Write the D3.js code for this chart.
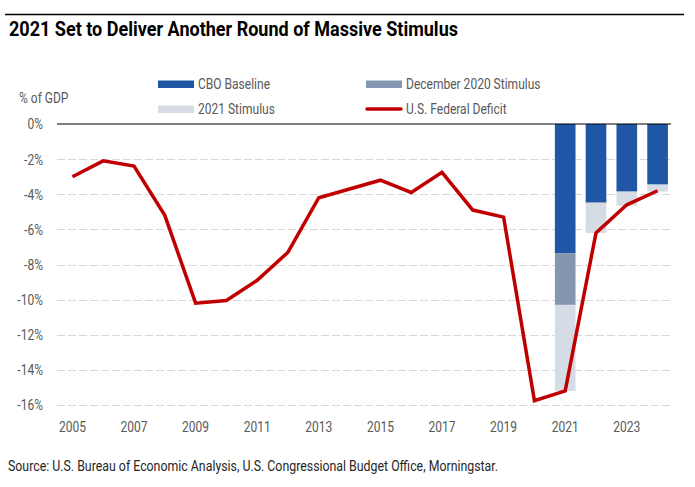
<!DOCTYPE html>
<html><head><meta charset="utf-8">
<script src="https://cdn.jsdelivr.net/npm/d3@7"></script>
<style>body{margin:0;background:#fff}svg{display:block}text{font-family:Roboto,"Liberation Sans",sans-serif}</style>
</head><body><svg id="c" width="695" height="487"></svg>
<script>
const years = ["2005","2006","2007","2008","2009","2010","2011","2012","2013","2014","2015","2016","2017","2018","2019","2020","2021","2022","2023","2024"];
const deficit = [-3.0,-2.1,-2.4,-5.2,-10.2,-10.05,-8.9,-7.3,-4.2,-3.7,-3.2,-3.9,-2.75,-4.9,-5.3,-15.75,-15.2,-6.2,-4.6,-3.8];
const barYears = ["2021","2022","2023","2024"];
const cboBaseline = [-7.35,-4.45,-3.85,-3.45];
const dec2020Stimulus = [-2.95,-0.07,0,0];
const stimulus2021 = [-4.9,-1.68,-0.8,-0.4];
const yTicks = [0,-2,-4,-6,-8,-10,-12,-14,-16];
const xTickYears = ["2005","2007","2009","2011","2013","2015","2017","2019","2021","2023"];
const seriesNames = ["CBO Baseline","December 2020 Stimulus","2021 Stimulus","U.S. Federal Deficit"];
const colors = ["#1f56a5","#8497b0","#d6dce5","#c00000"];

const svg = d3.select("#c");
const x = d3.scaleBand().domain(years).range([57,673]).paddingInner(0.33).paddingOuter(0.165);
const y = d3.scaleLinear().domain([-16,0]).range([405,124]);
const FS = 14.5;
let factor = 1;
function condense(sel, f){ sel.each(function(){ const l=this.getComputedTextLength(); d3.select(this).attr("textLength", l*f).attr("lengthAdjust","spacingAndGlyphs"); }); }
function fitTo(sel, w){ sel.attr("textLength", w).attr("lengthAdjust","spacingAndGlyphs"); }

// measure condense factor
const probe = svg.append("text").attr("font-size",FS).text("CBO Baseline");
factor = 72 / probe.node().getComputedTextLength();
probe.remove();

// top rule + title
svg.append("line").attr("x1",5).attr("x2",684).attr("y1",14.5).attr("y2",14.5).attr("stroke","#000").attr("stroke-width",1.5);
const title = svg.append("text").attr("x",9).attr("y",36).attr("font-weight","bold").attr("font-size",19.5).attr("fill","#000")
  .text("2021 Set to Deliver Another Round of Massive Stimulus");
fitTo(title, 449);

// grid
const grid = svg.append("g");
yTicks.filter(d=>d!==0).forEach(t=>{
  grid.append("line").attr("x1",57).attr("x2",671).attr("y1",Math.round(y(t))+0.5).attr("y2",Math.round(y(t))+0.5)
    .attr("stroke","#d9d9d9").attr("stroke-width",1).attr("stroke-dasharray","8,3");
});

// y axis labels
const yAxis = d3.axisLeft(y).tickValues(yTicks).tickSize(0).tickPadding(0).tickFormat(d=>d+"%");
const ga = svg.append("g").attr("transform","translate(43,0)").call(yAxis);
ga.select(".domain").remove();
ga.selectAll("text").attr("font-size",FS).attr("fill","#595959").attr("font-family","Roboto, sans-serif").attr("dy","0.34em");
condense(ga.selectAll("text"), factor);

// x axis labels
const xAxis = d3.axisBottom(x).tickValues(xTickYears).tickSize(0).tickPadding(0);
const gx = svg.append("g").attr("transform","translate(0,432)").call(xAxis);
gx.select(".domain").remove();
gx.selectAll("text").attr("font-size",FS).attr("fill","#595959").attr("font-family","Roboto, sans-serif").attr("dy","0");
condense(gx.selectAll("text"), factor);

// stacked bars
const stackData = barYears.map((yr,i)=>({year:yr, a:cboBaseline[i], b:dec2020Stimulus[i], c:stimulus2021[i]}));
const stack = d3.stack().keys(["a","b","c"]).offset(d3.stackOffsetDiverging);
const series = stack(stackData);
svg.append("g").selectAll("g").data(series).join("g").attr("fill",(d,i)=>colors[i])
  .selectAll("rect").data(d=>d).join("rect")
  .attr("x",d=>x(d.data.year)).attr("width",x.bandwidth())
  .attr("y",d=>y(Math.max(d[0],d[1]))).attr("height",d=>Math.abs(y(d[0])-y(d[1])));

// zero line
svg.append("line").attr("x1",57).attr("x2",671).attr("y1",y(0)).attr("y2",y(0)).attr("stroke","#000").attr("stroke-width",1.2);

// deficit line
const line = d3.line().x((d,i)=>x(years[i])+x.bandwidth()/2).y(d=>y(d));
svg.append("path").datum(deficit).attr("d",line).attr("fill","none").attr("stroke",colors[3]).attr("stroke-width",3.5).attr("stroke-linejoin","miter");

// y unit label
const unit = svg.append("text").attr("x",19).attr("y",103).attr("font-size",FS).attr("fill","#595959").text("% of GDP");
condense(unit, factor);

// legend
const leg = [{x:158,y:84,i:0},{x:366,y:84,i:1},{x:158,y:109,i:2},{x:366,y:109,i:3}];
leg.forEach(l=>{
  if(l.i<3) svg.append("rect").attr("x",l.x).attr("y",l.y-3.5).attr("width",36).attr("height",7.5).attr("fill",colors[l.i]);
  else svg.append("line").attr("x1",l.x+1).attr("x2",l.x+35).attr("y1",l.y).attr("y2",l.y).attr("stroke",colors[3]).attr("stroke-width",3.5).attr("stroke-linecap","round");
  const t = svg.append("text").attr("x",l.x+40).attr("y",l.y+5).attr("font-size",FS).attr("fill","#595959").text(seriesNames[l.i]);
  condense(t, factor);
});

// source
const src = svg.append("text").attr("x",8).attr("y",471).attr("font-size",FS).attr("fill","#262626")
  .text("Source: U.S. Bureau of Economic Analysis, U.S. Congressional Budget Office, Morningstar.");
fitTo(src, 490);
</script></body></html>
